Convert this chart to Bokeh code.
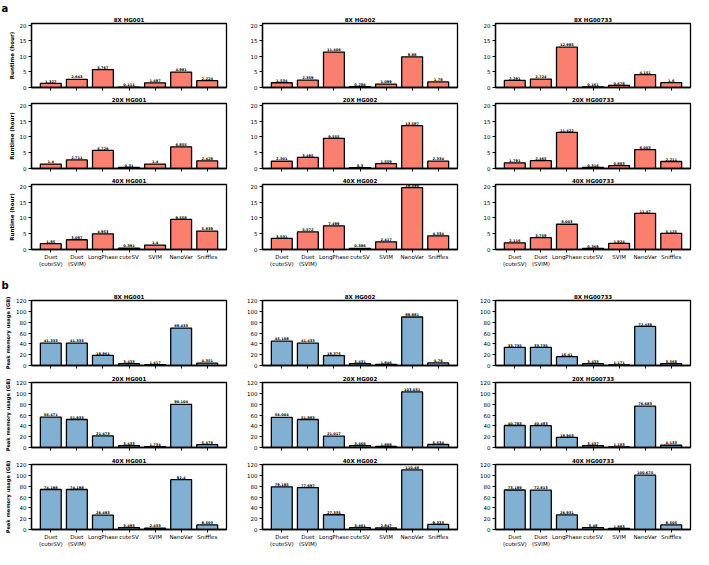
from bokeh.plotting import figure
from bokeh.layouts import column, row
from bokeh.models import Range1d, FixedTicker, Title, ColumnDataSource
from bokeh.core.properties import value
from bokeh.embed import file_html
from bokeh.resources import INLINE

# ---------------- data ----------------
categories = ["Duet\n(cuteSV)", "Duet\n(SVIM)", "LongPhase", "cuteSV", "SVIM", "NanoVar", "Sniffles"]
depths = ["8X", "20X", "40X"]
samples = ["HG001", "HG002", "HG00733"]

runtime_ticks = [0, 5, 10, 15, 20]
memory_ticks = [0, 20, 40, 60, 80, 100, 120]

# Runtime (hour)
runtime_8x_hg001 = [1.327, 2.643, 5.767, 0.111, 1.497, 4.981, 2.224]
runtime_8x_hg002 = [1.534, 2.359, 11.406, 0.286, 1.099, 9.880, 1.78]
runtime_8x_hg00733 = [2.291, 2.724, 12.985, 0.161, 0.678, 4.151, 1.6]
runtime_20x_hg001 = [1.4, 2.711, 5.726, 0.31, 1.4, 6.855, 2.428]
runtime_20x_hg002 = [2.301, 3.495, 9.555, 0.3, 1.559, 13.587, 2.334]
runtime_20x_hg00733 = [1.791, 2.465, 11.422, 0.316, 0.883, 6.003, 2.211]
runtime_40x_hg001 = [1.85, 3.087, 4.953, 0.391, 1.4, 9.558, 5.839]
runtime_40x_hg002 = [3.531, 5.572, 7.499, 0.386, 2.417, 19.599, 4.334]
runtime_40x_hg00733 = [2.116, 3.759, 8.003, 0.369, 1.924, 11.47, 5.125]

# Peak memory usage (GB)
memory_8x_hg001 = [41.333, 41.333, 18.861, 3.433, 1.417, 69.433, 4.351]
memory_8x_hg002 = [45.108, 41.433, 18.375, 3.431, 1.846, 89.881, 4.76]
memory_8x_hg00733 = [33.735, 33.735, 16.41, 3.433, 1.171, 72.438, 3.568]
memory_20x_hg001 = [56.471, 51.933, 21.473, 3.433, 1.734, 80.104, 5.478]
memory_20x_hg002 = [56.004, 51.883, 21.017, 3.466, 1.888, 103.031, 5.534]
memory_20x_hg00733 = [40.783, 40.483, 18.903, 3.437, 1.183, 76.683, 4.133]
memory_40x_hg001 = [74.198, 74.198, 26.493, 3.493, 2.433, 92.4, 8.503]
memory_40x_hg002 = [79.185, 77.697, 27.335, 3.461, 2.847, 110.48, 9.333]
memory_40x_hg00733 = [73.189, 72.813, 26.931, 3.48, 1.883, 100.675, 8.505]

runtime = [
    [runtime_8x_hg001, runtime_8x_hg002, runtime_8x_hg00733],
    [runtime_20x_hg001, runtime_20x_hg002, runtime_20x_hg00733],
    [runtime_40x_hg001, runtime_40x_hg002, runtime_40x_hg00733],
]
memory = [
    [memory_8x_hg001, memory_8x_hg002, memory_8x_hg00733],
    [memory_20x_hg001, memory_20x_hg002, memory_20x_hg00733],
    [memory_40x_hg001, memory_40x_hg002, memory_40x_hg00733],
]

# ---------------- style ----------------
FONT = "DejaVu Sans"
RUNTIME_COLOR = "#FA7F6F"
MEMORY_COLOR = "#82B0D2"
COL_W = [236, 233, 224]
BORDER_L = [31, 26, 26]
BORDER_R = [10, 12, 3]
FRAME_H = 65
TXT = "5.5px"


def panel(vals, title, col, top, bottom, show_x, ymax, yticks, ylabel, label_size, color, letter=None):
    xs = list(range(len(categories)))
    p = figure(width=COL_W[col], height=top + FRAME_H + bottom,
               x_range=Range1d(-0.74, 6.74), y_range=Range1d(0, ymax),
               output_backend="svg", toolbar_location=None, tools="", title=None,
               min_border_left=BORDER_L[col], min_border_right=BORDER_R[col],
               min_border_top=top, min_border_bottom=bottom,
               background_fill_color="white", border_fill_color="white")
    src = ColumnDataSource(dict(x=xs, v=vals, lab=[f"{v:g}" for v in vals]))
    p.vbar(x="x", top="v", width=0.8, source=src, fill_color=color,
           line_color="black", line_width=1.3)
    p.text(x="x", y="v", text="lab", source=src, text_align="center",
           text_baseline="bottom", text_font=value(FONT), text_font_size="3.6px",
           text_font_style="bold", text_color="black", y_offset=-0.8)

    p.add_layout(Title(text=title, align="center", text_font=FONT, text_font_size=TXT,
                       text_font_style="bold", text_color="black", standoff=2), "above")
    if letter:
        p.add_layout(Title(text=letter, align="left", offset=-BORDER_L[col] + 1,
                           text_font=FONT, text_font_size="10px", text_font_style="bold",
                           text_color="black", standoff=0), "above")

    p.xgrid.visible = False
    p.ygrid.visible = False
    p.outline_line_color = "black"
    p.outline_line_width = 1.3

    xa = p.xaxis[0]
    xa.ticker = FixedTicker(ticks=xs)
    xa.major_label_overrides = {i: (c if show_x else "") for i, c in enumerate(categories)}
    xa.major_label_text_font = FONT
    xa.major_label_text_font_size = TXT
    xa.major_label_text_color = "black"
    xa.major_label_standoff = 1
    xa.major_tick_out = 3
    xa.major_tick_in = 0
    xa.minor_tick_line_color = None
    xa.axis_line_color = "black"
    xa.axis_line_width = 1.3

    ya = p.yaxis[0]
    ya.ticker = FixedTicker(ticks=yticks)
    ya.major_label_text_font = FONT
    ya.major_label_text_font_size = TXT
    ya.major_label_text_color = "black"
    ya.major_label_standoff = 2
    ya.major_tick_out = 3
    ya.major_tick_in = 0
    ya.minor_tick_line_color = None
    ya.axis_line_color = "black"
    ya.axis_line_width = 1.3
    if ylabel:
        ya.axis_label = ylabel
        ya.axis_label_text_font = FONT
        ya.axis_label_text_font_size = label_size
        ya.axis_label_text_font_style = "bold"
        ya.axis_label_text_color = "black"
        ya.axis_label_standoff = 2
    return p


rows = []
tops = [22, 12, 12]
bottoms = [4, 4, 22]
for r in range(3):
    figs = []
    for c in range(3):
        figs.append(panel(runtime[r][c], f"{depths[r]} {samples[c]}", c, tops[r], bottoms[r],
                          r == 2, 20.6, runtime_ticks,
                          "Runtime (hour)" if c == 0 else None, TXT, RUNTIME_COLOR,
                          letter="a" if (r == 0 and c == 0) else None))
    rows.append(row(*figs, spacing=0))

tops_b = [29, 12, 12]
bottoms_b = [5, 5, 20]
for r in range(3):
    figs = []
    for c in range(3):
        figs.append(panel(memory[r][c], f"{depths[r]} {samples[c]}", c, tops_b[r], bottoms_b[r],
                          r == 2, 120.5, memory_ticks,
                          "Peak memory usage (GB)" if c == 0 else None, "5.1px", MEMORY_COLOR,
                          letter="b" if (r == 0 and c == 0) else None))
    rows.append(row(*figs, spacing=0))

layout = column(*rows, spacing=0)

with open("out.html", "w") as f:
    f.write(file_html(layout, INLINE))
